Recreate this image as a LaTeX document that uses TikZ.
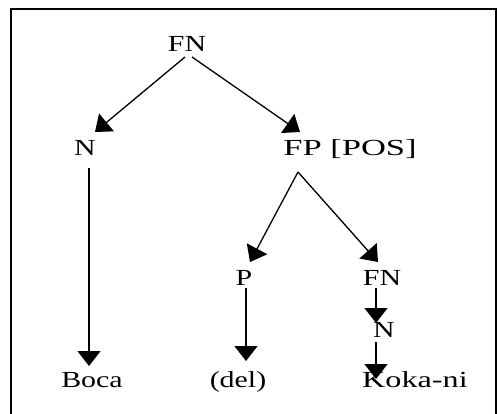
\documentclass[tikz,border=0pt]{standalone}
\usepackage{fontspec}
\setmainfont{Liberation Serif}
\usepackage{graphicx}
\usetikzlibrary{arrows.meta,calc}
\newcommand\sx[2][1.3]{\scalebox{#1}[1]{#2}}
\begin{document}
\begin{tikzpicture}[x=1pt,y=-1pt,
  lbl/.style={inner sep=0pt,anchor=base,font=\fontsize{23}{27}\selectfont},
  arr/.style={line width=1.3pt,-{Triangle[width=23pt,length=15pt]}}]
\useasboundingbox (0,0) rectangle (497,414);
\clip (0,0) rectangle (497,414);
\draw[line width=2.5pt] (11,9) rectangle (496,440);
\node[lbl] (fn) at (187,52) {\sx{FN}};
\node[lbl] (n1) at (85,156) {\sx{N}};
\node[lbl] (fp) at (350,156) {\sx[1.5]{FP [POS]}};
\node[lbl] (p) at (244,285) {\sx{P}};
\node[lbl] (fn2) at (382,285) {\sx{FN}};
\node[lbl] (n2) at (384,337) {\sx{N}};
\node[lbl] (boca) at (92,387) {\sx{Boca}};
\node[lbl] (del) at (238,387) {\sx{(del)}};
\node[lbl] (koka) at (415,387) {\sx[1.4]{Koka-ni}};
\draw[arr] ($(fn.base)+(-2,5)$) -- ($(n1.base)+(10,-24)$);
\draw[arr] ($(fn.base)+(5,5)$) -- ($(fp.base)+(-50,-24)$);
\draw[arr] ($(fp.base)+(-52,16)$) -- ($(p.base)+(6,-23)$);
\draw[arr] ($(fp.base)+(-52,16)$) -- ($(fn2.base)+(-4,-23)$);
\draw[arr] ($(n1.base)+(4,12)$) -- ($(boca.base)+(-3,-21)$);
\draw[arr] ($(p.base)+(2,3)$) -- ($(del.base)+(8,-26)$);
\draw[arr] ($(fn2.base)+(-6,3)$) -- ($(n2.base)+(-8,-14)$);
\draw[arr] ($(n2.base)+(-8,5)$) -- ($(koka.base)+(-39,-8)$);
\end{tikzpicture}
\end{document}
